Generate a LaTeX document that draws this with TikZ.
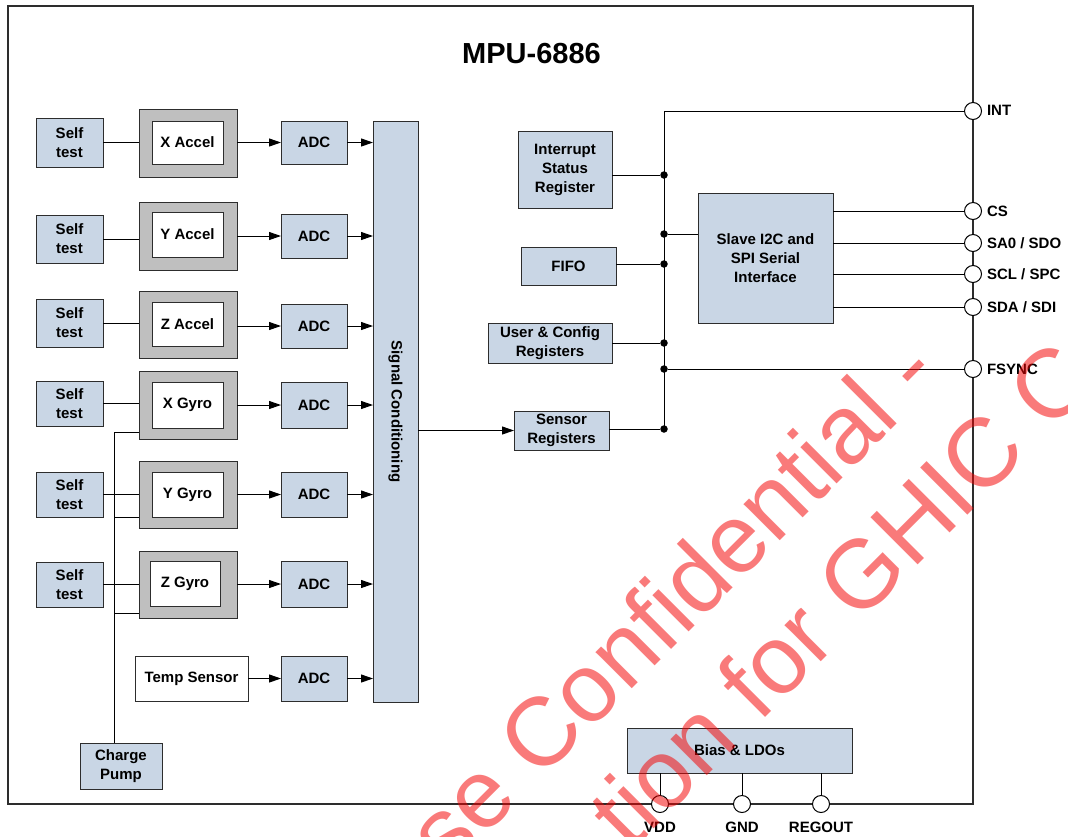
\documentclass[tikz,border=0pt]{standalone}
\usepackage{fontspec}
\setmainfont{Liberation Sans}
\usetikzlibrary{arrows.meta,calc}
\definecolor{boxblue}{RGB}{201,214,229}
\definecolor{boxgray}{RGB}{191,191,191}
\definecolor{edge}{RGB}{45,45,45}
\definecolor{wm}{RGB}{245,0,0}
\begin{document}
\begin{tikzpicture}[x=1pt,y=-1pt,
  every node/.style={font=\bfseries\fontsize{15}{19}\selectfont, inner sep=0pt, outer sep=0pt},
  bbox/.style={draw=edge, line width=1pt, fill=boxblue, align=center},
  gbox/.style={draw=edge, line width=1pt, fill=boxgray},
  wbox/.style={draw=edge, line width=1pt, fill=white, align=center},
  wire/.style={draw=black, line width=1pt},
  arr/.style={wire, -{Triangle[length=12pt,width=8pt]}},
  dot/.style={circle, fill=black, minimum size=7.5pt},
  pin/.style={circle, draw=black, line width=1pt, fill=white, minimum size=17pt},
  pinlabel/.style={anchor=west},
  wmtext/.style={font={\normalfont\fontsize{97}{110}\selectfont}, text=wm, text opacity=0.52, anchor=base west, rotate=45},
]
\useasboundingbox (0,0) rectangle (1068,836);
\fill[white] (0,0) rectangle (1068,836);

% frame
\node[draw=edge, line width=1.2pt, minimum width=965, minimum height=798] (frame) at (490.5,405) {};
\node (title) at (531.5,54) {\fontsize{29}{34}\selectfont MPU-6886};

% self test boxes
\node[bbox, minimum width=67, minimum height=49] (st1) at (69.5,142.5) {Self\\test};
\node[bbox, minimum width=67, minimum height=48] (st2) at (69.5,239) {Self\\test};
\node[bbox, minimum width=67, minimum height=48] (st3) at (69.5,323) {Self\\test};
\node[bbox, minimum width=67, minimum height=45] (st4) at (69.5,403.5) {Self\\test};
\node[bbox, minimum width=67, minimum height=45] (st5) at (69.5,494.5) {Self\\test};
\node[bbox, minimum width=67, minimum height=45] (st6) at (69.5,584.5) {Self\\test};

% sensor frames
\node[gbox, minimum width=98, minimum height=68] (o1) at (188,143) {};
\node[gbox, minimum width=98, minimum height=68] (o2) at (188,236) {};
\node[gbox, minimum width=98, minimum height=67] (o3) at (188,324.5) {};
\node[gbox, minimum width=98, minimum height=68] (o4) at (188,405) {};
\node[gbox, minimum width=98, minimum height=67] (o5) at (188,494.5) {};
\node[gbox, minimum width=98, minimum height=67] (o6) at (188,584.5) {};
\node[wbox, minimum width=71, minimum height=43] (i1) at (187.5,142.5) {X Accel};
\node[wbox, minimum width=71, minimum height=45] (i2) at (187.5,234.5) {Y Accel};
\node[wbox, minimum width=71, minimum height=44] (i3) at (187.5,324) {Z Accel};
\node[wbox, minimum width=71, minimum height=46] (i4) at (187.5,405) {X Gyro};
\node[wbox, minimum width=71, minimum height=45] (i5) at (187.5,494.5) {Y Gyro};
\node[wbox, minimum width=70, minimum height=45] (i6) at (185,583.5) {Z Gyro};
\node[wbox, minimum width=113, minimum height=45] (temp) at (191.5,678.5) {Temp Sensor};

% ADCs
\node[bbox, minimum width=66, minimum height=43] (a1) at (314,142.5) {ADC};
\node[bbox, minimum width=66, minimum height=44] (a2) at (314,236) {ADC};
\node[bbox, minimum width=66, minimum height=44] (a3) at (314,326) {ADC};
\node[bbox, minimum width=66, minimum height=46] (a4) at (314,405) {ADC};
\node[bbox, minimum width=66, minimum height=45] (a5) at (314,494.5) {ADC};
\node[bbox, minimum width=66, minimum height=46] (a6) at (314,584) {ADC};
\node[bbox, minimum width=66, minimum height=45] (a7) at (314,678.5) {ADC};

\node[bbox, minimum width=82, minimum height=46] (cp) at (121,766) {Charge\\Pump};
\node[bbox, minimum width=45, minimum height=581] (sc) at (395.5,411.5) {};
\node[rotate=-90] (sctext) at (sc.center) {Signal Conditioning};

% registers and interface
\node[bbox, minimum width=94, minimum height=77] (isr) at (565,169.5) {Interrupt\\Status\\Register};
\node[bbox, minimum width=95, minimum height=38] (fifo) at (568.5,266) {FIFO};
\node[bbox, minimum width=124, minimum height=40] (ucr) at (550,343) {User \& Config\\Registers};
\node[bbox, minimum width=95, minimum height=39] (sr) at (561.5,430.5) {Sensor\\Registers};
\node[bbox, minimum width=135, minimum height=130] (slave) at (765.5,258) {Slave I2C and\\SPI Serial\\Interface};
\node[bbox, minimum width=225, minimum height=45] (bias) at (739.5,750.5) {Bias \& LDOs};

% pins
\node[pin] (int) at (973,111) {};
\node[pin] (cs) at (973,211) {};
\node[pin] (sa0) at (973,243) {};
\node[pin] (scl) at (973,274) {};
\node[pin] (sda) at (973,307) {};
\node[pin] (fsync) at (973,369) {};
\node[pin] (vdd) at (660,804) {};
\node[pin] (gnd) at (742,804) {};
\node[pin] (regout) at (821,804) {};
\node[pinlabel] (lint) at (987,110) {INT};
\node[pinlabel] (lcs) at (987,211) {CS};
\node[pinlabel] (lsa0) at (987,243) {SA0 / SDO};
\node[pinlabel] (lscl) at (987,274) {SCL / SPC};
\node[pinlabel] (lsda) at (987,307) {SDA / SDI};
\node[pinlabel] (lfsync) at (987,369) {FSYNC};
\node (lvdd) at (660,827.5) {VDD};
\node (lgnd) at (742,827.5) {GND};
\node (lregout) at (821,827.5) {REGOUT};

% self test links
\foreach \k in {1,...,6} {
  \draw[wire] (st\k.east) -- (st\k.east -| o\k.west);
  \draw[arr] (o\k.east |- a\k.west) -- (a\k.west);
  \draw[arr] (a\k.east) -- (a\k.east -| sc.west);
}
\draw[arr] (temp.east) -- (a7.west);
\draw[arr] (a7.east) -- (a7.east -| sc.west);

% charge pump
\coordinate (cp1) at (114,432);
\coordinate (cp2) at (114,517);
\coordinate (cp3) at (114,613);
\draw[wire] (cp.north -| cp1) -- (cp1) -- (cp1 -| o4.west);
\draw[wire] (cp2) -- (cp2 -| o5.west);
\draw[wire] (cp3) -- (cp3 -| o6.west);

% to sensor registers
\draw[arr] (sr.west -| sc.east) -- (sr.west);

% bus
\coordinate (btop) at (664,111);
\coordinate (bbot) at (664,429);
\draw[wire] (bbot) -- (btop) -- (int.west);
\node[dot] (d1) at (664,175) {};
\node[dot] (d2) at (664,234) {};
\node[dot] (d3) at (664,264) {};
\node[dot] (d4) at (664,343) {};
\node[dot] (d5) at (664,369) {};
\node[dot] (d6) at (664,429) {};
\draw[wire] (isr.east |- d1) -- (d1);
\draw[wire] (d2) -- (d2 -| slave.west);
\draw[wire] (fifo.east |- d3) -- (d3);
\draw[wire] (ucr.east |- d4) -- (d4);
\draw[wire] (d5) -- (fsync.west);
\draw[wire] (sr.east |- d6) -- (d6);

% interface to pins
\draw[wire] (slave.east |- cs) -- (cs.west);
\draw[wire] (slave.east |- sa0) -- (sa0.west);
\draw[wire] (slave.east |- scl) -- (scl.west);
\draw[wire] (slave.east |- sda) -- (sda.west);

% bias to pins
\draw[wire] (bias.south -| vdd) -- (vdd.north);
\draw[wire] (bias.south -| gnd) -- (gnd.north);
\draw[wire] (bias.south -| regout) -- (regout.north);

% watermark
\begin{scope}
  \clip (0,0) rectangle (1068,836);
  \node[wmtext] (wm1) at (448,873) {se Confidential -};
  \node[wmtext] (wm2) at (630,853) {tion for GHIC C};
\end{scope}
\end{tikzpicture}
\end{document}
